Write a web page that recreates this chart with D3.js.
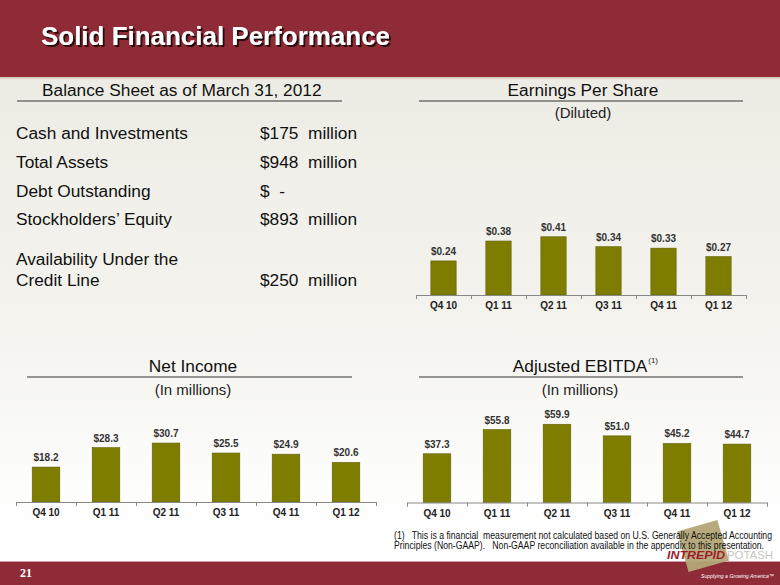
<!DOCTYPE html>
<html><head><meta charset="utf-8">
<script src="https://cdn.jsdelivr.net/npm/d3@7"></script>
<style>
html,body{margin:0;padding:0;background:#fff;}
svg{display:block;font-family:Arial,"Liberation Sans",sans-serif;}
</style></head>
<body>
<svg id="c" width="780" height="585"></svg>
<script>
const categories = ["Q4 10","Q1 11","Q2 11","Q3 11","Q4 11","Q1 12"];
const eps = [0.24,0.38,0.41,0.34,0.33,0.27];
const netIncome = [18.2,28.3,30.7,25.5,24.9,20.6];
const ebitda = [37.3,55.8,59.9,51.0,45.2,44.7];
const bsLabels = ["Cash and Investments","Total Assets","Debt Outstanding","Stockholders\u2019 Equity"];
const bsValues = ["$175  million","$948  million","$  -","$893  million"];
const bsCredit = ["Availability Under the","Credit Line","$250  million"];
const footnote = ["(1)   This is a financial  measurement not calculated based on U.S. Generally Accepted Accounting",
                  "Principles (Non-GAAP).   Non-GAAP reconciliation available in the appendix to this presentation."];

const svg = d3.select("#c");
const defs = svg.append("defs");
const bg = defs.append("linearGradient").attr("id","bg").attr("x1",0).attr("y1",0).attr("x2",0).attr("y2",1);
bg.append("stop").attr("offset","0%").attr("stop-color","#ebeae1");
bg.append("stop").attr("offset","55%").attr("stop-color","#f4f3ee");
bg.append("stop").attr("offset","90%").attr("stop-color","#ffffff");
const sh = defs.append("filter").attr("id","sh").attr("x","-5%").attr("y","-20%").attr("width","110%").attr("height","150%");
sh.append("feDropShadow").attr("dx",2).attr("dy",2).attr("stdDeviation",0.4).attr("flood-color","#2a0a0e").attr("flood-opacity",1);
svg.append("rect").attr("width",780).attr("height",585).attr("fill","url(#bg)");

// header
const red = "#8e2b37";
svg.append("rect").attr("x",0).attr("y",0).attr("width",780).attr("height",77).attr("fill",red);
svg.append("rect").attr("x",0).attr("y",77).attr("width",780).attr("height",2).attr("fill","#d9cfc4");
svg.append("text").attr("x",41).attr("y",45).attr("fill","#fff").attr("font-size",26).attr("font-weight","bold")
  .attr("filter","url(#sh)")
  .attr("textLength",349).attr("lengthAdjust","spacingAndGlyphs").text("Solid Financial Performance");

// footer
svg.append("rect").attr("x",0).attr("y",562).attr("width",780).attr("height",23).attr("fill",red);
svg.append("rect").attr("x",0).attr("y",561).attr("width",780).attr("height",1).attr("fill","#c9a0a5");
svg.append("text").attr("x",20).attr("y",577).attr("fill","#fff").attr("font-size",12).attr("font-weight","bold")
  .attr("font-family","'Liberation Serif','DejaVu Serif',serif").text("21");

// balance sheet
const F = 17.3;
svg.append("text").attr("x",42).attr("y",96).attr("font-size",F).attr("fill","#111").text("Balance Sheet as of March 31, 2012");
svg.append("line").attr("x1",17).attr("x2",342).attr("y1",101).attr("y2",101).attr("stroke","#333").attr("stroke-width",1.2);
const rowY = [139,168,197,225];
bsLabels.forEach((l,i)=>{
  svg.append("text").attr("x",16).attr("y",rowY[i]).attr("font-size",F).attr("fill","#111").text(l);
  svg.append("text").attr("x",260).attr("y",rowY[i]).attr("font-size",F).attr("fill","#111").style("white-space","pre").text(bsValues[i]);
});
svg.append("text").attr("x",16).attr("y",265).attr("font-size",F).attr("fill","#111").text(bsCredit[0]);
svg.append("text").attr("x",16).attr("y",286).attr("font-size",F).attr("fill","#111").text(bsCredit[1]);
svg.append("text").attr("x",260).attr("y",286).attr("font-size",F).attr("fill","#111").style("white-space","pre").text(bsCredit[2]);

function heading(cx, x1, x2, title, sub, ty, sy, sup){
  const t = svg.append("text").attr("x",cx).attr("y",ty).attr("text-anchor","middle").attr("font-size",F).attr("fill","#111").text(title);
  svg.append("line").attr("x1",x1).attr("x2",x2).attr("y1",ty+5).attr("y2",ty+5).attr("stroke","#333").attr("stroke-width",1.2);
  svg.append("text").attr("x",cx).attr("y",sy).attr("text-anchor","middle").attr("font-size",15).attr("fill","#222").text(sub);
  if(sup){
    const w = t.node().getComputedTextLength();
    svg.append("text").attr("x",cx + w/2 + 1).attr("y",ty-9).attr("font-size",8).attr("fill","#222").text(sup);
  }
}

function barChart(opts){
  const {x0, x1, y0, yMax, pxTop, values, fmt} = opts;
  const x = d3.scaleBand().domain(categories).range([x0,x1]).paddingInner(0.54).paddingOuter(0.27);
  const y = d3.scaleLinear().domain([0,yMax]).range([y0,pxTop]);
  const g = svg.append("g");
  g.selectAll("rect.bar").data(values).join("rect").attr("class","bar")
    .attr("x",(d,i)=>x(categories[i])).attr("width",x.bandwidth())
    .attr("y",d=>y(d)).attr("height",d=>y0-y(d))
    .attr("fill","#7f7d00").attr("stroke","#5f5e00").attr("stroke-width",0.6);
  g.selectAll("text.val").data(values).join("text").attr("class","val")
    .attr("x",(d,i)=>x(categories[i])+x.bandwidth()/2).attr("y",d=>y(d)-6)
    .attr("text-anchor","middle").attr("font-size",10).attr("font-weight","bold").attr("fill","#333")
    .text(fmt);
  const xi = d3.scaleLinear().domain([0,categories.length]).range([x0,x1]);
  const ax = g.append("g").attr("transform",`translate(0,${y0})`)
    .call(d3.axisBottom(xi).tickValues(d3.range(categories.length+1)).tickSize(4).tickSizeOuter(4).tickFormat(""));
  ax.select(".domain").attr("stroke","#888");
  ax.selectAll(".tick line").attr("stroke","#888");
  const lab = g.append("g").attr("transform",`translate(0,${y0})`)
    .call(d3.axisBottom(x).tickSize(0).tickPadding(7));
  lab.select(".domain").remove();
  lab.selectAll("text").attr("font-size",10).attr("font-weight","bold").attr("fill","#222").attr("font-family","Arial,'Liberation Sans',sans-serif");
}

heading(583, 419, 743, "Earnings Per Share", "(Diluted)", 96, 118);
barChart({x0:416, x1:746, y0:295, yMax:0.5, pxTop:295-71, values:eps, fmt:d=>"$"+d.toFixed(2)});

heading(193, 27, 352, "Net Income", "(In millions)", 372, 395);
barChart({x0:16, x1:376, y0:502, yMax:40, pxTop:502-76.8, values:netIncome, fmt:d=>"$"+d.toFixed(1)});

heading(580, 419, 743, "Adjusted EBITDA", "(In millions)", 372, 395, "(1)");
barChart({x0:407, x1:767, y0:502.5, yMax:80, pxTop:502.5-104.5, values:ebitda, fmt:d=>"$"+d.toFixed(1)});

// logo square (behind text)
svg.append("rect").attr("x",-21).attr("y",-21).attr("width",42).attr("height",42)
  .attr("fill","#b3a777").attr("opacity",0.95)
  .attr("transform","translate(703,546) rotate(-16)");

// footnote
svg.append("text").attr("x",394).attr("y",538.5).attr("font-size",10).attr("fill","#111").style("white-space","pre")
  .attr("textLength",378).attr("lengthAdjust","spacingAndGlyphs").text(footnote[0]);
svg.append("text").attr("x",394).attr("y",549).attr("font-size",10).attr("fill","#111").style("white-space","pre")
  .attr("textLength",370).attr("lengthAdjust","spacingAndGlyphs").text(footnote[1]);

svg.append("text").attr("x",667).attr("y",559).attr("font-size",10.5).attr("font-weight","bold").attr("font-style","italic")
  .attr("fill","#9b1c2e").attr("textLength",58).attr("lengthAdjust","spacingAndGlyphs").text("INTREPID");
svg.append("text").attr("x",727).attr("y",559).attr("font-size",10.5)
  .attr("fill","#c8c6c0").attr("textLength",46).attr("lengthAdjust","spacingAndGlyphs").text("POTASH");
svg.append("text").attr("x",701).attr("y",578).attr("font-size",6).attr("font-style","italic")
  .attr("fill","#fff").attr("textLength",73).attr("lengthAdjust","spacingAndGlyphs").text("Supplying a Growing America\u2122");
</script>
</body></html>
